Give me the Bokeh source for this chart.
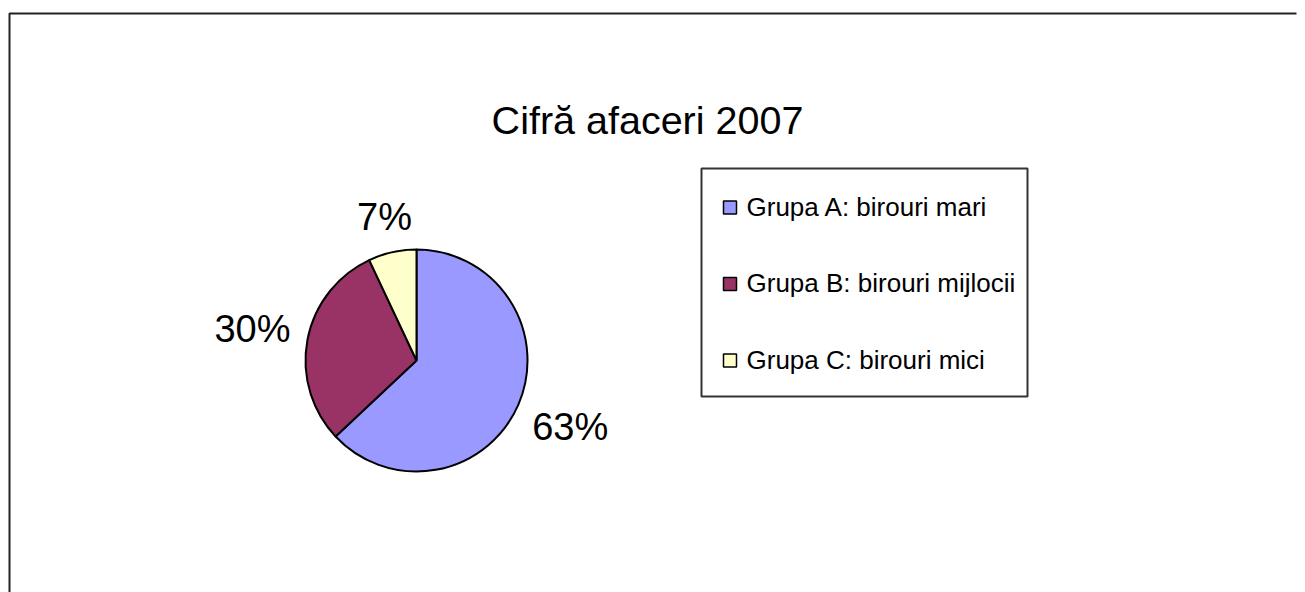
import math
from bokeh.plotting import figure
from bokeh.models import Range1d
from bokeh.core.properties import value
from bokeh.embed import file_html
from bokeh.resources import INLINE

# ---- data ----
title_text = "Cifră afaceri 2007"
categories = ["Grupa A: birouri mari", "Grupa B: birouri mijlocii", "Grupa C: birouri mici"]
shares = [63, 30, 7]
colors = ["#9999FF", "#993366", "#FFFFCC"]

W, H = 1305, 592
FONT = "Liberation Sans"

def sy(y):  # screen y (top-down) -> data y
    return H - y

p = figure(width=W, height=H, output_backend="svg", toolbar_location=None,
           x_range=Range1d(0, W), y_range=Range1d(0, H), min_border=0)
p.axis.visible = False
p.grid.visible = False
p.outline_line_color = None
p.background_fill_color = "white"
p.border_fill_color = "white"

# outer chart-area frame (top + left visible)
p.line(x=[9, 9, 1296], y=[0, sy(13), sy(13)], line_color="#222222", line_width=2)

# title
p.text(x=[647], y=[sy(119)], text=[title_text], text_font=value(FONT),
       text_font_size="39.5px", text_align="center", text_baseline="middle", text_color="black")

# pie
cx, cy, r = 416, sy(360), 111
total = sum(shares)
starts, ends, mids = [], [], []
cum = 0.0
for s in shares:
    a0 = cum / total * 2 * math.pi
    cum += s
    a1 = cum / total * 2 * math.pi
    starts.append(math.pi / 2 - a0)
    ends.append(math.pi / 2 - a1)
    mids.append((a0 + a1) / 2)

p.wedge(x=[cx] * 3, y=[cy] * 3, radius=r, start_angle=starts, end_angle=ends,
        direction="clock", fill_color=colors, line_color="black", line_width=2)

# percentage labels outside slices
fs = 38
glyph_w = {"%": 0.889}
labels = [f"{s}%" for s in shares]
lx, ly = [], []
for lab, m in zip(labels, mids):
    w = sum(glyph_w.get(ch, 0.556) for ch in lab) * fs
    hw, hh = w / 2, 14
    dx, dy = math.sin(m), math.cos(m)
    support = hw * abs(dx) + hh * abs(dy)
    d = r + 16 + support
    lx.append(cx + dx * d)
    ly.append(cy + dy * d)
p.text(x=lx, y=ly, text=labels, text_font=value(FONT), text_font_size=f"{fs}px",
       text_align="center", text_baseline="middle", text_color="black")

# legend box
lb_left, lb_right, lb_top, lb_bot = 701, 1027, 168, 396
p.quad(left=[lb_left], right=[lb_right], top=[sy(lb_top)], bottom=[sy(lb_bot)],
       fill_color="white", line_color="#333333", line_width=2)
row_y = [sy(206 + 76.5 * i) for i in range(len(categories))]
p.rect(x=[729.5] * 3, y=[yy - 1 for yy in row_y], width=13, height=13,
       fill_color=colors, line_color="black", line_width=1.5)
p.text(x=[746] * 3, y=row_y, text=categories, text_font=value(FONT),
       text_font_size="26px", text_align="left", text_baseline="middle", text_color="black")

open("out.html", "w").write(file_html(p, INLINE))
